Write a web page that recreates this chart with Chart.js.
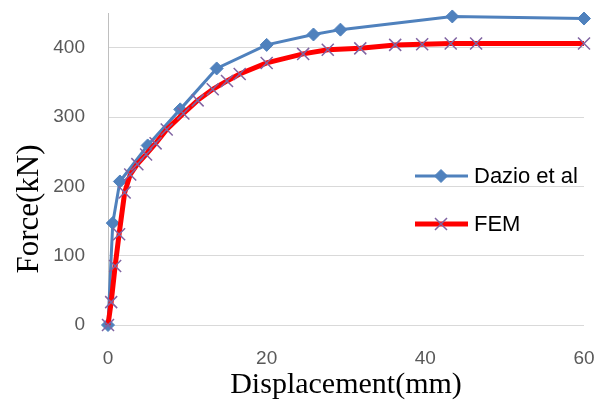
<!DOCTYPE html>
<html><head><meta charset="utf-8">
<script src="https://cdn.jsdelivr.net/npm/chart.js@4/dist/chart.umd.min.js"></script>
<style>html,body{margin:0;padding:0;background:#fff;}#wrap{width:599px;height:400px;position:relative;}</style>
</head><body><div id="wrap"><canvas id="c" width="599" height="400"></canvas></div>
<script>
const seriesNames = ['Dazio et al', 'FEM'];
const dazioX = [0, 0.6, 1.5, 5.0, 9.1, 13.7, 20.0, 25.9, 29.3, 43.4, 60.0];
const dazioY = [0, 147, 207, 259, 311, 370, 404, 419, 426, 445, 442];
const femX = [0, 0.4, 0.9, 1.4, 2.1, 2.8, 3.7, 4.8, 6.0, 7.4, 9.5, 11.3, 13.2, 15.0, 16.6, 20.0, 24.6, 27.7, 31.8, 36.2, 39.6, 43.2, 46.4, 60.0];
const femY = [0, 33, 85, 131, 191, 217, 232, 246, 262, 282, 305, 324, 340, 352, 362, 378, 391, 397, 399, 404, 405, 406, 406, 406];
const xTicks = [0, 20, 40, 60];
const yTicks = [0, 100, 200, 300, 400];
const xTitle = 'Displacement(mm)';
const yTitle = 'Force(kN)';

const toPts = (xs, ys) => xs.map((x, i) => ({x: x, y: ys[i]}));

const yTitlePlugin = {
  id: 'yTitle',
  afterDraw(chart) {
    const ctx = chart.ctx;
    ctx.save();
    ctx.translate(30, 209);
    ctx.rotate(-Math.PI / 2);
    ctx.font = '31px "Liberation Serif"';
    ctx.fillStyle = '#000';
    ctx.textAlign = 'center';
    ctx.textBaseline = 'middle';
    ctx.fillText(yTitle, 0, 0);
    ctx.restore();
  }
};

const legendPlugin = {
  id: 'inLegend',
  afterDatasetsDraw(chart) {
    const ctx = chart.ctx;
    const rows = [176, 224];
    chart.data.datasets.forEach((ds, i) => {
      const y = rows[i];
      ctx.save();
      ctx.strokeStyle = ds.borderColor;
      ctx.lineWidth = ds.borderWidth;
      ctx.beginPath(); ctx.moveTo(415, y); ctx.lineTo(468, y); ctx.stroke();
      ctx.fillStyle = ds.pointBackgroundColor;
      ctx.strokeStyle = ds.pointBorderColor;
      ctx.lineWidth = ds.pointBorderWidth;
      Chart.helpers.drawPoint(ctx, {
        pointStyle: ds.pointStyle, radius: ds.pointRadius, borderWidth: ds.pointBorderWidth, rotation: 0
      }, 441, y);
      ctx.font = '22px "Liberation Sans"';
      ctx.fillStyle = '#000';
      ctx.textAlign = 'left';
      ctx.textBaseline = 'middle';
      ctx.fillText(ds.label, 474, y + 1);
      ctx.restore();
    });
  }
};

new Chart(document.getElementById('c'), {
  type: 'scatter',
  data: {
    datasets: [
      {
        label: seriesNames[0],
        data: toPts(dazioX, dazioY),
        showLine: true,
        borderColor: '#4F81BD',
        backgroundColor: '#4F81BD',
        borderWidth: 3,
        pointStyle: 'rectRot',
        pointRadius: 6.5,
        pointBackgroundColor: '#4F81BD',
        pointBorderColor: '#4F81BD',
        pointBorderWidth: 1,
        tension: 0,
        clip: false,
        order: 1
      },
      {
        label: seriesNames[1],
        data: toPts(femX, femY),
        showLine: true,
        borderColor: '#FF0000',
        backgroundColor: '#FF0000',
        borderWidth: 5,
        pointStyle: 'crossRot',
        pointRadius: 8.5,
        pointBackgroundColor: '#8064A2',
        pointBorderColor: '#8064A2',
        pointBorderWidth: 1.5,
        tension: 0,
        clip: false,
        order: 0
      }
    ]
  },
  options: {
    responsive: false,
    animation: false,
    devicePixelRatio: 1,
    layout: {padding: {top: 13, right: 15, left: 0, bottom: 0}},
    plugins: {legend: {display: false}, tooltip: {enabled: false}},
    scales: {
      x: {
        type: 'linear', min: 0, max: 60,
        afterBuildTicks: s => { s.ticks = xTicks.map(v => ({value: v})); },
        afterFit: s => { s.height = 75; s.paddingLeft = 0; s.paddingRight = 0; },
        grid: {display: false, drawTicks: false},
        border: {display: false},
        ticks: {color: '#595959', font: {family: 'Liberation Sans', size: 19}, padding: 22, maxRotation: 0},
        title: {display: true, text: xTitle, color: '#000', font: {family: 'Liberation Serif', size: 30, lineHeight: 1}, padding: 0}
      },
      y: {
        type: 'linear', min: 0, max: 450,
        afterBuildTicks: s => { s.ticks = yTicks.map(v => ({value: v})); },
        afterFit: s => { s.width = 108; s.paddingTop = 0; s.paddingBottom = 0; },
        grid: {color: '#d9d9d9', lineWidth: 1, drawTicks: false},
        border: {display: true, color: '#bfbfbf', width: 1},
        ticks: {color: '#595959', font: {family: 'Liberation Sans', size: 19}, padding: 23}
      }
    }
  },
  plugins: [yTitlePlugin, legendPlugin]
});
</script>
</body></html>
